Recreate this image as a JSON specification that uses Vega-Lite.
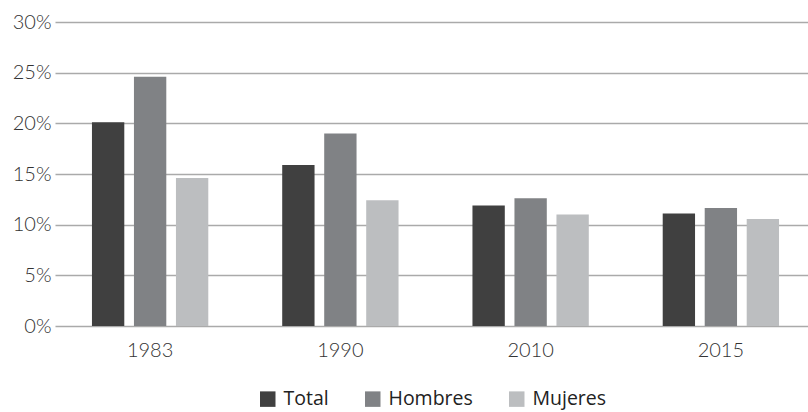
{
  "$schema": "https://vega.github.io/schema/vega-lite/v6.json",
  "width": 752,
  "height": 304,
  "autosize": {"type": "none"},
  "padding": {"left": 56, "top": 22, "right": 0, "bottom": 86},
  "background": "white",
  "data": {
    "values": [
      {"year": "1983", "group": "Total", "value": 20.1},
      {"year": "1983", "group": "Hombres", "value": 24.6},
      {"year": "1983", "group": "Mujeres", "value": 14.6},
      {"year": "1990", "group": "Total", "value": 15.9},
      {"year": "1990", "group": "Hombres", "value": 19.0},
      {"year": "1990", "group": "Mujeres", "value": 12.4},
      {"year": "2010", "group": "Total", "value": 11.9},
      {"year": "2010", "group": "Hombres", "value": 12.6},
      {"year": "2010", "group": "Mujeres", "value": 11.0},
      {"year": "2015", "group": "Total", "value": 11.1},
      {"year": "2015", "group": "Hombres", "value": 11.65},
      {"year": "2015", "group": "Mujeres", "value": 10.55}
    ]
  },
  "mark": {"type": "bar"},
  "encoding": {
    "x": {
      "field": "year",
      "type": "nominal",
      "scale": {"paddingInner": 0, "paddingOuter": 0, "range": [-1, 760]},
      "axis": {
        "title": null,
        "labelAngle": 0,
        "ticks": false,
        "domain": false,
        "labelFont": "Lato",
        "labelFontWeight": 300,
        "labelFontSize": 20,
        "labelColor": "#333333",
        "labelPadding": 14
      }
    },
    "xOffset": {
      "field": "group",
      "type": "nominal",
      "sort": ["Total", "Hombres", "Mujeres"],
      "scale": {"paddingInner": 0.23, "paddingOuter": 0.88}
    },
    "y": {
      "field": "value",
      "type": "quantitative",
      "scale": {"domain": [0, 30]},
      "axis": {
        "title": null,
        "values": [0, 5, 10, 15, 20, 25, 30],
        "labelExpr": "datum.value + '%'",
        "ticks": false,
        "domain": false,
        "gridColor": "#aaaaaa",
        "gridWidth": 1.4,
        "labelFont": "Lato",
        "labelFontWeight": 300,
        "labelFontSize": 20,
        "labelColor": "#333333",
        "labelPadding": 5
      }
    },
    "color": {
      "field": "group",
      "type": "nominal",
      "sort": ["Total", "Hombres", "Mujeres"],
      "scale": {
        "domain": ["Total", "Hombres", "Mujeres"],
        "range": ["#404040", "#808285", "#bcbec0"]
      },
      "legend": {
        "title": null,
        "orient": "bottom",
        "direction": "horizontal",
        "symbolType": "square",
        "symbolSize": 240,
        "symbolStrokeWidth": 0,
        "labelFont": "Open Sans",
        "labelFontSize": 19.5,
        "labelColor": "#222222",
        "columnPadding": 34,
        "labelOffset": 6,
        "offset": 29
      }
    }
  },
  "config": {
    "view": {"stroke": null},
    "legend": {"layout": {"bottom": {"anchor": "middle"}}}
  }
}
